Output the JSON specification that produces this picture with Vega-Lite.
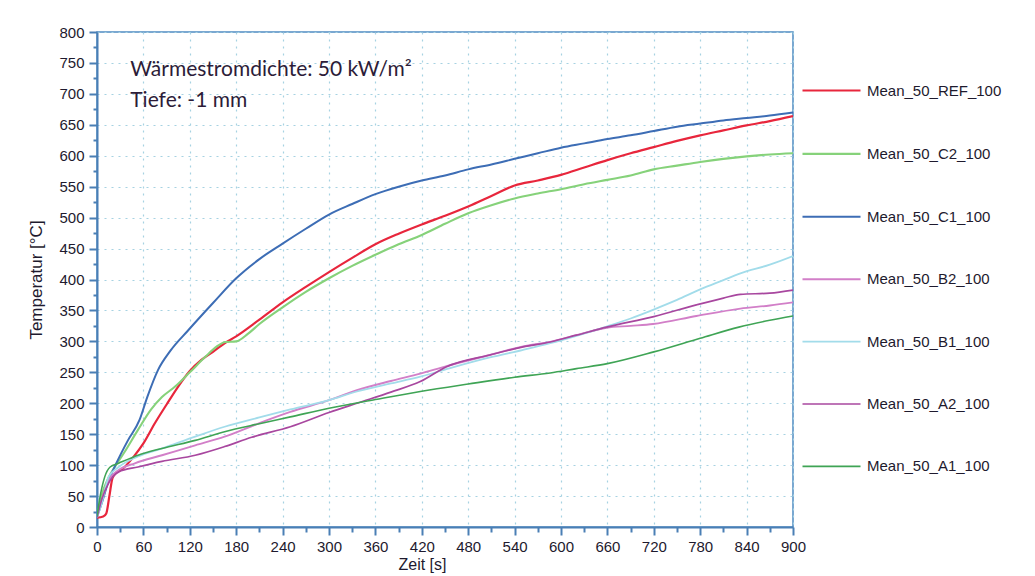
{
  "$schema": "https://vega.github.io/schema/vega-lite/v6.json",
  "width": 696,
  "height": 495,
  "autosize": {"type": "none"},
  "padding": {"left": 97, "top": 32, "right": 242, "bottom": 49},
  "background": "white",
  "config": {
    "view": {"stroke": "#4f8cc2", "strokeWidth": 1.5},
    "font": "Liberation Sans"
  },
  "resolve": {"axis": {"x": "independent", "y": "independent"}},
  "datasets": {
    "series": [
      {"s":"Mean_50_REF_100","t":0,"v":15},{"s":"Mean_50_REF_100","t":8,"v":17},{"s":"Mean_50_REF_100","t":12,"v":22},{"s":"Mean_50_REF_100","t":16,"v":50},{"s":"Mean_50_REF_100","t":20,"v":79},{"s":"Mean_50_REF_100","t":25,"v":88},{"s":"Mean_50_REF_100","t":32,"v":93},{"s":"Mean_50_REF_100","t":47,"v":113},{"s":"Mean_50_REF_100","t":60,"v":135},{"s":"Mean_50_REF_100","t":75,"v":168},{"s":"Mean_50_REF_100","t":90,"v":198},{"s":"Mean_50_REF_100","t":105,"v":227},{"s":"Mean_50_REF_100","t":120,"v":252},{"s":"Mean_50_REF_100","t":135,"v":270},{"s":"Mean_50_REF_100","t":150,"v":283},{"s":"Mean_50_REF_100","t":165,"v":297},{"s":"Mean_50_REF_100","t":180,"v":308},{"s":"Mean_50_REF_100","t":210,"v":335},{"s":"Mean_50_REF_100","t":240,"v":363},{"s":"Mean_50_REF_100","t":270,"v":388},{"s":"Mean_50_REF_100","t":300,"v":412},{"s":"Mean_50_REF_100","t":330,"v":435},{"s":"Mean_50_REF_100","t":360,"v":457},{"s":"Mean_50_REF_100","t":390,"v":474},{"s":"Mean_50_REF_100","t":420,"v":489},{"s":"Mean_50_REF_100","t":450,"v":503},{"s":"Mean_50_REF_100","t":480,"v":518},{"s":"Mean_50_REF_100","t":510,"v":535},{"s":"Mean_50_REF_100","t":540,"v":552},{"s":"Mean_50_REF_100","t":570,"v":560},{"s":"Mean_50_REF_100","t":600,"v":569},{"s":"Mean_50_REF_100","t":630,"v":581},{"s":"Mean_50_REF_100","t":660,"v":593},{"s":"Mean_50_REF_100","t":690,"v":604},{"s":"Mean_50_REF_100","t":720,"v":614},{"s":"Mean_50_REF_100","t":750,"v":624},{"s":"Mean_50_REF_100","t":780,"v":633},{"s":"Mean_50_REF_100","t":810,"v":641},{"s":"Mean_50_REF_100","t":840,"v":649},{"s":"Mean_50_REF_100","t":870,"v":656},{"s":"Mean_50_REF_100","t":900,"v":664},
      {"s":"Mean_50_C2_100","t":0,"v":15},{"s":"Mean_50_C2_100","t":6,"v":51},{"s":"Mean_50_C2_100","t":15,"v":80},{"s":"Mean_50_C2_100","t":23,"v":97},{"s":"Mean_50_C2_100","t":35,"v":120},{"s":"Mean_50_C2_100","t":53,"v":157},{"s":"Mean_50_C2_100","t":70,"v":190},{"s":"Mean_50_C2_100","t":84,"v":210},{"s":"Mean_50_C2_100","t":101,"v":227},{"s":"Mean_50_C2_100","t":120,"v":250},{"s":"Mean_50_C2_100","t":140,"v":275},{"s":"Mean_50_C2_100","t":155,"v":292},{"s":"Mean_50_C2_100","t":166,"v":299},{"s":"Mean_50_C2_100","t":180,"v":300},{"s":"Mean_50_C2_100","t":195,"v":312},{"s":"Mean_50_C2_100","t":210,"v":328},{"s":"Mean_50_C2_100","t":240,"v":355},{"s":"Mean_50_C2_100","t":270,"v":380},{"s":"Mean_50_C2_100","t":300,"v":402},{"s":"Mean_50_C2_100","t":330,"v":422},{"s":"Mean_50_C2_100","t":360,"v":440},{"s":"Mean_50_C2_100","t":390,"v":457},{"s":"Mean_50_C2_100","t":420,"v":472},{"s":"Mean_50_C2_100","t":450,"v":490},{"s":"Mean_50_C2_100","t":480,"v":507},{"s":"Mean_50_C2_100","t":510,"v":520},{"s":"Mean_50_C2_100","t":540,"v":531},{"s":"Mean_50_C2_100","t":570,"v":539},{"s":"Mean_50_C2_100","t":600,"v":546},{"s":"Mean_50_C2_100","t":630,"v":554},{"s":"Mean_50_C2_100","t":660,"v":561},{"s":"Mean_50_C2_100","t":690,"v":568},{"s":"Mean_50_C2_100","t":720,"v":578},{"s":"Mean_50_C2_100","t":750,"v":584},{"s":"Mean_50_C2_100","t":780,"v":590},{"s":"Mean_50_C2_100","t":810,"v":595},{"s":"Mean_50_C2_100","t":840,"v":599},{"s":"Mean_50_C2_100","t":870,"v":602},{"s":"Mean_50_C2_100","t":900,"v":604},
      {"s":"Mean_50_C1_100","t":0,"v":17},{"s":"Mean_50_C1_100","t":6,"v":38},{"s":"Mean_50_C1_100","t":15,"v":75},{"s":"Mean_50_C1_100","t":25,"v":103},{"s":"Mean_50_C1_100","t":40,"v":140},{"s":"Mean_50_C1_100","t":55,"v":173},{"s":"Mean_50_C1_100","t":65,"v":210},{"s":"Mean_50_C1_100","t":79,"v":254},{"s":"Mean_50_C1_100","t":95,"v":285},{"s":"Mean_50_C1_100","t":118,"v":318},{"s":"Mean_50_C1_100","t":150,"v":362},{"s":"Mean_50_C1_100","t":180,"v":402},{"s":"Mean_50_C1_100","t":210,"v":433},{"s":"Mean_50_C1_100","t":240,"v":458},{"s":"Mean_50_C1_100","t":270,"v":482},{"s":"Mean_50_C1_100","t":300,"v":505},{"s":"Mean_50_C1_100","t":330,"v":522},{"s":"Mean_50_C1_100","t":360,"v":538},{"s":"Mean_50_C1_100","t":390,"v":550},{"s":"Mean_50_C1_100","t":420,"v":560},{"s":"Mean_50_C1_100","t":450,"v":568},{"s":"Mean_50_C1_100","t":480,"v":578},{"s":"Mean_50_C1_100","t":510,"v":586},{"s":"Mean_50_C1_100","t":540,"v":595},{"s":"Mean_50_C1_100","t":570,"v":604},{"s":"Mean_50_C1_100","t":600,"v":613},{"s":"Mean_50_C1_100","t":630,"v":620},{"s":"Mean_50_C1_100","t":660,"v":627},{"s":"Mean_50_C1_100","t":690,"v":633},{"s":"Mean_50_C1_100","t":720,"v":640},{"s":"Mean_50_C1_100","t":750,"v":647},{"s":"Mean_50_C1_100","t":780,"v":652},{"s":"Mean_50_C1_100","t":810,"v":657},{"s":"Mean_50_C1_100","t":840,"v":661},{"s":"Mean_50_C1_100","t":870,"v":665},{"s":"Mean_50_C1_100","t":900,"v":670},
      {"s":"Mean_50_B2_100","t":0,"v":15},{"s":"Mean_50_B2_100","t":6,"v":42},{"s":"Mean_50_B2_100","t":15,"v":76},{"s":"Mean_50_B2_100","t":28,"v":92},{"s":"Mean_50_B2_100","t":49,"v":103},{"s":"Mean_50_B2_100","t":84,"v":116},{"s":"Mean_50_B2_100","t":127,"v":132},{"s":"Mean_50_B2_100","t":165,"v":146},{"s":"Mean_50_B2_100","t":210,"v":168},{"s":"Mean_50_B2_100","t":250,"v":186},{"s":"Mean_50_B2_100","t":300,"v":205},{"s":"Mean_50_B2_100","t":336,"v":221},{"s":"Mean_50_B2_100","t":380,"v":236},{"s":"Mean_50_B2_100","t":418,"v":248},{"s":"Mean_50_B2_100","t":452,"v":260},{"s":"Mean_50_B2_100","t":508,"v":278},{"s":"Mean_50_B2_100","t":551,"v":292},{"s":"Mean_50_B2_100","t":586,"v":299},{"s":"Mean_50_B2_100","t":620,"v":310},{"s":"Mean_50_B2_100","t":659,"v":322},{"s":"Mean_50_B2_100","t":690,"v":325},{"s":"Mean_50_B2_100","t":719,"v":328},{"s":"Mean_50_B2_100","t":775,"v":341},{"s":"Mean_50_B2_100","t":832,"v":353},{"s":"Mean_50_B2_100","t":870,"v":358},{"s":"Mean_50_B2_100","t":900,"v":363},
      {"s":"Mean_50_B1_100","t":0,"v":15},{"s":"Mean_50_B1_100","t":6,"v":38},{"s":"Mean_50_B1_100","t":15,"v":81},{"s":"Mean_50_B1_100","t":28,"v":97},{"s":"Mean_50_B1_100","t":53,"v":114},{"s":"Mean_50_B1_100","t":84,"v":127},{"s":"Mean_50_B1_100","t":127,"v":146},{"s":"Mean_50_B1_100","t":165,"v":162},{"s":"Mean_50_B1_100","t":210,"v":177},{"s":"Mean_50_B1_100","t":250,"v":190},{"s":"Mean_50_B1_100","t":300,"v":205},{"s":"Mean_50_B1_100","t":336,"v":219},{"s":"Mean_50_B1_100","t":380,"v":232},{"s":"Mean_50_B1_100","t":418,"v":243},{"s":"Mean_50_B1_100","t":460,"v":258},{"s":"Mean_50_B1_100","t":508,"v":274},{"s":"Mean_50_B1_100","t":550,"v":286},{"s":"Mean_50_B1_100","t":586,"v":297},{"s":"Mean_50_B1_100","t":620,"v":309},{"s":"Mean_50_B1_100","t":659,"v":324},{"s":"Mean_50_B1_100","t":690,"v":337},{"s":"Mean_50_B1_100","t":719,"v":351},{"s":"Mean_50_B1_100","t":750,"v":367},{"s":"Mean_50_B1_100","t":780,"v":384},{"s":"Mean_50_B1_100","t":810,"v":399},{"s":"Mean_50_B1_100","t":832,"v":410},{"s":"Mean_50_B1_100","t":870,"v":424},{"s":"Mean_50_B1_100","t":900,"v":438},
      {"s":"Mean_50_A2_100","t":0,"v":15},{"s":"Mean_50_A2_100","t":6,"v":44},{"s":"Mean_50_A2_100","t":15,"v":71},{"s":"Mean_50_A2_100","t":28,"v":89},{"s":"Mean_50_A2_100","t":53,"v":97},{"s":"Mean_50_A2_100","t":84,"v":106},{"s":"Mean_50_A2_100","t":127,"v":116},{"s":"Mean_50_A2_100","t":165,"v":130},{"s":"Mean_50_A2_100","t":200,"v":145},{"s":"Mean_50_A2_100","t":250,"v":162},{"s":"Mean_50_A2_100","t":300,"v":185},{"s":"Mean_50_A2_100","t":336,"v":200},{"s":"Mean_50_A2_100","t":380,"v":218},{"s":"Mean_50_A2_100","t":418,"v":235},{"s":"Mean_50_A2_100","t":452,"v":259},{"s":"Mean_50_A2_100","t":508,"v":278},{"s":"Mean_50_A2_100","t":551,"v":291},{"s":"Mean_50_A2_100","t":586,"v":299},{"s":"Mean_50_A2_100","t":620,"v":310},{"s":"Mean_50_A2_100","t":659,"v":323},{"s":"Mean_50_A2_100","t":720,"v":340},{"s":"Mean_50_A2_100","t":775,"v":359},{"s":"Mean_50_A2_100","t":810,"v":370},{"s":"Mean_50_A2_100","t":832,"v":376},{"s":"Mean_50_A2_100","t":870,"v":378},{"s":"Mean_50_A2_100","t":900,"v":383},
      {"s":"Mean_50_A1_100","t":0,"v":17},{"s":"Mean_50_A1_100","t":4,"v":49},{"s":"Mean_50_A1_100","t":10,"v":81},{"s":"Mean_50_A1_100","t":17,"v":97},{"s":"Mean_50_A1_100","t":28,"v":103},{"s":"Mean_50_A1_100","t":53,"v":116},{"s":"Mean_50_A1_100","t":84,"v":127},{"s":"Mean_50_A1_100","t":127,"v":140},{"s":"Mean_50_A1_100","t":165,"v":154},{"s":"Mean_50_A1_100","t":210,"v":167},{"s":"Mean_50_A1_100","t":250,"v":178},{"s":"Mean_50_A1_100","t":300,"v":192},{"s":"Mean_50_A1_100","t":360,"v":206},{"s":"Mean_50_A1_100","t":418,"v":219},{"s":"Mean_50_A1_100","t":480,"v":231},{"s":"Mean_50_A1_100","t":540,"v":242},{"s":"Mean_50_A1_100","t":586,"v":249},{"s":"Mean_50_A1_100","t":620,"v":256},{"s":"Mean_50_A1_100","t":660,"v":264},{"s":"Mean_50_A1_100","t":720,"v":283},{"s":"Mean_50_A1_100","t":780,"v":305},{"s":"Mean_50_A1_100","t":830,"v":323},{"s":"Mean_50_A1_100","t":870,"v":334},{"s":"Mean_50_A1_100","t":900,"v":341}
    ],
    "notes": [
      {"t": 43, "v": 738, "label": "Wärmestromdichte: 50 kW/m²"},
      {"t": 43, "v": 688, "label": "Tiefe: -1 mm"}
    ]
  },
  "layer": [
    {
      "data": {"name": "series"},
      "mark": {"type": "line", "interpolate": "monotone", "clip": true},
      "encoding": {
        "x": {
          "field": "t", "type": "quantitative",
          "scale": {"domain": [0, 900], "nice": false},
          "axis": {
            "orient": "bottom",
            "title": "Zeit [s]",
            "titleFont": "Liberation Sans", "titleFontSize": 16, "titleFontWeight": "normal", "titleColor": "#1e1a2e",
            "titlePadding": 2, "titleX": 325,
            "values": [0,60,120,180,240,300,360,420,480,540,600,660,720,780,840,900],
            "labelOverlap": false, "labelFlush": false,
            "labelFont": "Liberation Sans", "labelFontSize": 15, "labelColor": "#1e1a2e", "labelPadding": 4,
            "domainColor": "#4a7fb5", "domainWidth": 2,
            "tickColor": "#4a7fb5", "tickSize": 8, "tickWidth": 2,
            "grid": true, "gridColor": "#a6d2e2", "gridDash": [2, 5], "gridWidth": 1.2,
            "encode": {"ticks": {"update": {"y": {"value": -8}, "y2": {"value": 8}}}}
          }
        },
        "y": {
          "field": "v", "type": "quantitative",
          "scale": {"domain": [0, 800], "nice": false},
          "axis": {
            "orient": "left",
            "title": "Temperatur [°C]",
            "titleFont": "Liberation Sans", "titleFontSize": 17, "titleFontWeight": "normal", "titleColor": "#1e1a2e",
            "titlePadding": 13,
            "values": [0,50,100,150,200,250,300,350,400,450,500,550,600,650,700,750,800],
            "labelOverlap": false, "labelFlush": false,
            "labelFont": "Liberation Sans", "labelFontSize": 15, "labelColor": "#1e1a2e", "labelPadding": 5,
            "domainColor": "#4a7fb5", "domainWidth": 2,
            "tickColor": "#4a7fb5", "tickSize": 8, "tickWidth": 2,
            "grid": true, "gridColor": "#a6d2e2", "gridDash": [2, 5], "gridWidth": 1.2,
            "encode": {"ticks": {"update": {"x": {"value": 8}, "x2": {"value": -8}}}}
          }
        },
        "color": {
          "field": "s", "type": "nominal",
          "scale": {
            "domain": ["Mean_50_REF_100","Mean_50_C2_100","Mean_50_C1_100","Mean_50_B2_100","Mean_50_B1_100","Mean_50_A2_100","Mean_50_A1_100"],
            "range": ["#e8263c","#86d27a","#3d6db5","#d27fc8","#a2dcea","#a8479f","#3fa455"]
          },
          "legend": {
            "title": null,
            "orient": "none", "legendX": 704, "legendY": 28,
            "symbolType": "stroke", "symbolSize": 3364, "symbolStrokeWidth": 2.5,
            "labelFont": "Liberation Sans", "labelFontSize": 15, "labelColor": "#1e1a2e", "labelOffset": 5,
            "rowPadding": 24.4, "padding": 0, "labelLimit": 300
          }
        },
        "strokeWidth": {
          "field": "s", "type": "nominal",
          "scale": {
            "domain": ["Mean_50_REF_100","Mean_50_C2_100","Mean_50_C1_100","Mean_50_B2_100","Mean_50_B1_100","Mean_50_A2_100","Mean_50_A1_100"],
            "range": [2.2, 1.6, 1.8, 1.6, 1.6, 1.6, 1.6]
          },
          "legend": null
        }
      }
    },
    {
      "data": {"name": "notes"},
      "mark": {"type": "text", "align": "left", "baseline": "middle", "font": "Lato", "fontSize": 21, "color": "#2c1c38"},
      "encoding": {
        "x": {
          "field": "t", "type": "quantitative",
          "scale": {"domain": [0, 900], "nice": false},
          "axis": {
            "orient": "bottom", "title": null, "labels": false, "domain": false, "grid": false,
            "values": [30,90,150,210,270,330,390,450,510,570,630,690,750,810,870],
            "tickColor": "#4a7fb5", "tickSize": 5, "tickWidth": 2,
            "encode": {"ticks": {"update": {"y": {"value": -5}, "y2": {"value": 5}}}}
          }
        },
        "y": {
          "field": "v", "type": "quantitative",
          "scale": {"domain": [0, 800], "nice": false},
          "axis": {
            "orient": "left", "title": null, "labels": false, "domain": false, "grid": false,
            "values": [25,75,125,175,225,275,325,375,425,475,525,575,625,675,725,775],
            "tickColor": "#4a7fb5", "tickSize": 4, "tickWidth": 2,
            "encode": {"ticks": {"update": {"x": {"value": 4}, "x2": {"value": -4}}}}
          }
        },
        "text": {"field": "label"}
      }
    }
  ]
}
